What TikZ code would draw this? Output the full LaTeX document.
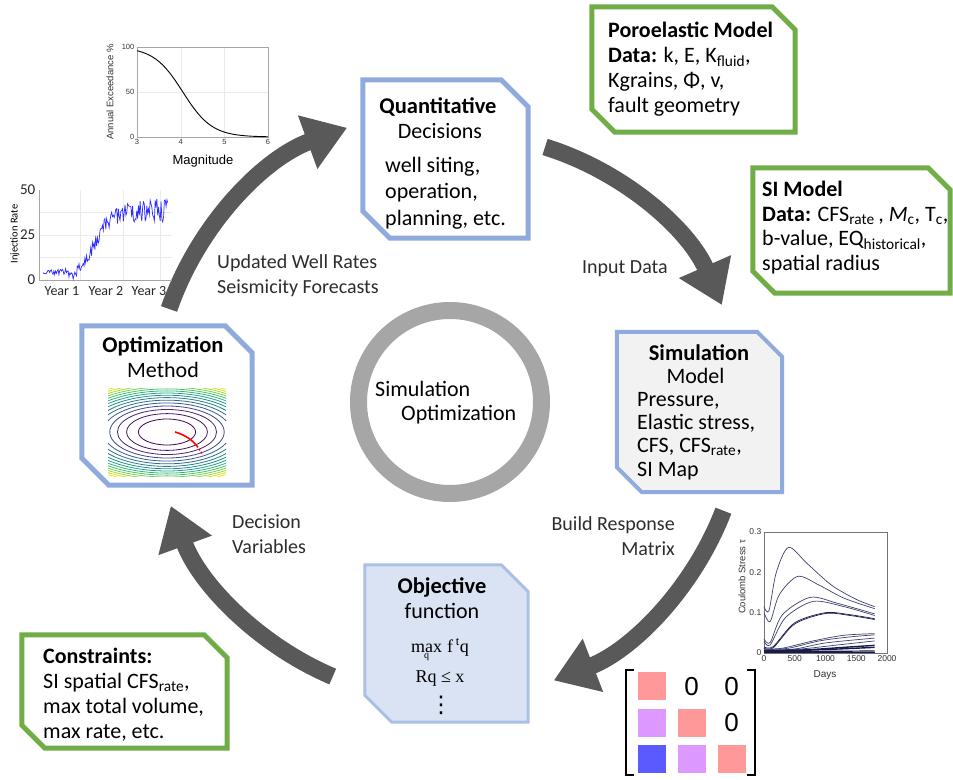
\documentclass[tikz,border=0pt]{standalone}
\usepackage{fontspec}
\setmainfont{Carlito}
\newfontfamily\plotfont{Liberation Sans}
\newfontfamily\formulafont{Liberation Serif}
\newfontfamily\dotsfont{DejaVu Sans}
\usetikzlibrary{arrows.meta,positioning,calc}
\definecolor{SioBlue}{RGB}{143,170,220}
\definecolor{SioSoftBlue}{RGB}{170,192,228}
\definecolor{SioPaleBlue}{RGB}{218,227,243}
\definecolor{SioGreen}{RGB}{112,173,71}
\definecolor{SioPanel}{RGB}{242,242,242}
\definecolor{SioArrow}{RGB}{89,89,89}
\definecolor{SioRing}{RGB}{166,166,166}
\definecolor{SioLabel}{RGB}{45,45,45}
\definecolor{SioInj}{RGB}{45,45,255}
\definecolor{SioStress}{RGB}{62,64,110}
\definecolor{SioStressDark}{RGB}{25,28,75}
\definecolor{SioDiag}{RGB}{255,153,153}
\definecolor{SioSub}{RGB}{221,153,255}
\definecolor{SioLow}{RGB}{90,90,255}
\definecolor{vir0}{HTML}{440154}
\definecolor{vir1}{HTML}{471365}
\definecolor{vir2}{HTML}{482475}
\definecolor{vir3}{HTML}{404688}
\definecolor{vir4}{HTML}{365C8D}
\definecolor{vir5}{HTML}{2F6C8E}
\definecolor{vir6}{HTML}{26828E}
\definecolor{vir7}{HTML}{21918C}
\definecolor{vir8}{HTML}{20A486}
\definecolor{vir9}{HTML}{2FB47C}
\definecolor{vir10}{HTML}{4AC16D}
\definecolor{vir11}{HTML}{73D056}
\definecolor{vir12}{HTML}{9FDA3A}
\definecolor{vir13}{HTML}{CFE11C}
\definecolor{vir14}{HTML}{FDE725}
\newcommand{\sioframe}[3][27pt]{%
  \path[#3] (#2.north west) -- ([xshift=-#1]#2.north east) -- ([yshift=-#1]#2.north east)
    -- (#2.south east) -- ([xshift=#1]#2.south west) -- ([yshift=#1]#2.south west) -- cycle;}
\tikzset{
  sio/area/.style={rectangle, inner sep=0pt},
  sio/decision/.style={draw=SioBlue, line width=5pt, fill=white},
  sio/data/.style={draw=SioGreen, line width=5pt, fill=white},
  sio/model/.style={draw=SioBlue, line width=4pt, fill=SioPanel},
  sio/goal/.style={draw=SioSoftBlue, line width=3pt, fill=SioPaleBlue},
  sio/head/.style={font=\fontsize{22.5}{26}\selectfont\bfseries, inner sep=0pt},
  sio/text/.style={font=\fontsize{22}{25}\selectfont, inner sep=0pt, align=left},
  sio/formula/.style={font=\formulafont\fontsize{18}{20}\selectfont, inner sep=0pt},
  sio/flow/.style={font=\fontsize{20}{25}\selectfont, text=SioLabel, inner sep=0pt, align=left},
  sio/hubtext/.style={font=\fontsize{22}{24}\selectfont, inner sep=0pt},
  sio/cycle/.style={draw=SioArrow, line width=17pt, -{Triangle[length=42pt,width=54pt]}},
  sio/ring/.style={circle, draw=SioRing, line width=17pt, minimum size=183pt, inner sep=0pt},
  sio/tick/.style={font=\plotfont\fontsize{7.5}{9}\selectfont, text=black!80, inner sep=1.5pt},
  sio/bigtick/.style={font=\fontsize{15}{17}\selectfont, text=black!85, inner sep=1.5pt},
  sio/axis/.style={draw=black!35, line width=0.5pt},
  sio/grid/.style={draw=black!8, line width=0.4pt},
  sio/stress/.style={draw=SioStress, line width=0.7pt, smooth},
  sio/cell/.style={minimum size=28pt, inner sep=0pt},
  sio/zero/.style={font=\plotfont\fontsize{26}{30}\selectfont, inner sep=0pt}
}

\begin{document}
\begin{tikzpicture}[x=1pt,y=-1pt]
  \path[use as bounding box, fill=white] (0,0) rectangle (953,779);

  \coordinate (loop) at (448,405);
  \coordinate (loopInput) at (460,420);
  \draw[sio/cycle] ($(loop)+(-161:295)$) arc[start angle=-161, end angle=-110, radius=295];
  \draw[sio/cycle] ($(loopInput)+(-72.7:286)$) arc[start angle=-72.7, end angle=-23.7, radius=286];
  \draw[sio/cycle] ($(loop)+(21:295)$) arc[start angle=21, end angle=69, radius=295];
  \draw[sio/cycle] ($(loop)+(113:295)$) arc[start angle=113, end angle=160, radius=295];

  \node[sio/ring] (hub) at (450,402) {};
  \node[sio/hubtext, anchor=base west] (hubSim) at (375,396) {Simulation};
  \node[sio/hubtext, anchor=base west] (hubOpt) at (401,420) {Optimization};

  \node[sio/flow, anchor=base west] (lblUpdate) at (217,293) {Updated Well Rates\\Seismicity Forecasts};
  \node[sio/flow, anchor=base west] (lblInput) at (582,273) {Input Data};
  \node[sio/flow, anchor=base west] (lblDecision) at (232,553) {Decision\\Variables};
  \node[sio/flow, anchor=base east, align=right] (lblBuild) at (675,555) {Build Response\\Matrix};

  \node[sio/area, minimum width=165pt, minimum height=158pt] (quant) at (445.5,159) {};
  \sioframe{quant}{sio/decision}
  \node[sio/head, anchor=base] (quantHead) at (438,113) {Quantitative};
  \node[sio/text, anchor=base] (quantSub) at (440,138) {Decisions};
  \node[sio/text, anchor=base west, font=\fontsize{22}{26.5}\selectfont] (quantList) at (385,225) {well siting,\\operation,\\planning, etc.};

  \node[sio/area, minimum width=203pt, minimum height=125pt] (poro) at (693.5,69.5) {};
  \sioframe[23pt]{poro}{sio/data}
  \node[sio/text, anchor=base west, font=\fontsize{22}{24.7}\selectfont] (poroText) at (608,112) {\textbf{Poroelastic Model}\\\textbf{Data:} k, E, K\textsubscript{fluid},\\Kgrains, Φ, v,\\fault geometry};

  \node[sio/area, minimum width=197pt, minimum height=125pt] (siModel) at (851.5,230.5) {};
  \sioframe[22pt]{siModel}{sio/data}
  \node[sio/text, anchor=base west, font=\fontsize{22}{24.5}\selectfont] (siText) at (762,270) {\textbf{SI Model}\\\textbf{Data:} CFS\textsubscript{rate}\,, \textit{M}\textsubscript{c}, T\textsubscript{c},\\b-value, EQ\textsubscript{historical},\\spatial radius};

  \node[sio/area, minimum width=165pt, minimum height=160pt] (simul) at (699.5,412) {};
  \sioframe[25pt]{simul}{sio/model}
  \node[sio/head, anchor=base] (simulHead) at (699,360) {Simulation};
  \node[sio/text, anchor=base] (simulSub) at (695.5,383) {Model};
  \node[sio/text, anchor=base west, font=\fontsize{22}{23.3}\selectfont] (simulList) at (637,476) {Pressure,\\Elastic stress,\\CFS, CFS\textsubscript{rate},\\SI Map};

  \node[sio/area, minimum width=170pt, minimum height=159pt] (optim) at (167,405.5) {};
  \sioframe{optim}{sio/decision}
  \node[sio/head, anchor=base] (optimHead) at (163,352) {Optimization};
  \node[sio/text, anchor=base] (optimSub) at (163,377) {Method};
  \coordinate (basin) at (167,432);
  \begin{scope}
    \clip (108,388) rectangle (226,476);
    \foreach \r/\c in {13/vir0, 18.38/vir1, 22.52/vir2, 26/vir3, 29.07/vir4, 31.84/vir5, 34.39/vir6, 36.77/vir7, 39/vir8, 41.11/vir9, 43.11/vir10, 45.03/vir11, 46.87/vir12, 48.64/vir13, 50.35/vir14}
      \draw[\c, line width=0.8pt] (basin) ellipse [x radius={2.2*\r}, y radius=\r];
  \end{scope}
  \draw[red, line width=1.6pt] (175,432) .. controls (186,435) and (193,441) .. (197,446);
  \draw[red, line width=1.6pt, dotted] (197,446) -- (203,455);

  \node[sio/area, minimum width=163pt, minimum height=157pt] (objective) at (446.5,643.5) {};
  \sioframe{objective}{sio/goal}
  \node[sio/head, anchor=base] (objHead) at (442,593) {Objective};
  \node[sio/text, anchor=base] (objSub) at (442,618) {function};
  \node[sio/formula, anchor=base] (objMax) at (440,652) {$\mathop{\hbox{max}}\limits_{\hbox{\fontsize{10}{11}\selectfont q}}$\;f\,\textsuperscript{t}q};
  \node[sio/formula, anchor=base] (objLimit) at (440,682) {Rq ≤ x};
  \node[font=\dotsfont\fontsize{23}{25}\selectfont, inner sep=0pt, anchor=base] (objDots) at (441,712) {⋮};

  \node[sio/area, minimum width=205pt, minimum height=113pt] (constr) at (124.5,691.5) {};
  \sioframe[23pt]{constr}{sio/data}
  \node[sio/text, anchor=base west] (constrText) at (43,738) {\textbf{Constraints:}\\SI spatial CFS\textsubscript{rate},\\max total volume,\\max rate, etc.};

  \draw[sio/grid] (180.7,47) -- (180.7,137) (224.3,47) -- (224.3,137) (137,92) -- (268,92);
  \draw[sio/axis] (137,47) rectangle (268,137);
  \draw[black, line width=0.9pt] plot[domain=3:6, samples=80, variable=\m] ({137+43.667*(\m-3)}, {137-90/(1+exp(3*(\m-4.05)))});
  \foreach \v/\yy in {0/137, 50/92, 100/47}
    \node[sio/tick, anchor=east] (exY\v) at (136,\yy) {\v};
  \foreach \m in {3,4,5,6}
    \node[sio/tick, anchor=north] (exX\m) at ({137+43.667*(\m-3)},138) {\m};
  \node[sio/tick, rotate=90, font=\plotfont\fontsize{9.5}{11}\selectfont] (exLabel) at (110,92) {Annual Exceedance \%};
  \node[font=\plotfont\fontsize{13}{15}\selectfont, inner sep=0pt] (magLabel) at (203,161) {Magnitude};

  \draw[sio/grid] (80,190) -- (80,280) (123,190) -- (123,280) (160,190) -- (160,280) (39,212.5) -- (172,212.5) (39,235) -- (172,235) (39,257.5) -- (172,257.5);
  \draw[sio/axis] (39,190) -- (39,280) -- (172,280);
  \pgfmathsetseed{11}
  \draw[SioInj, line width=0.7pt] plot[domain=0:1, samples=150, variable=\u] ({43+125*\u}, {280-1.8*min(48,max(0.5,4+4*\u+31/(1+exp(-18*(\u-0.42)))-4*exp(-(\u-0.24)*(\u-0.24)/0.0016)+(1.2+6*\u)*rand))});
  \foreach \v/\yy in {0/280, 25/235, 50/190}
    \node[sio/bigtick, anchor=east] (injY\v) at (37,\yy) {\v};
  \foreach \n/\xx in {1/62, 2/106, 3/149}
    \node[sio/bigtick, anchor=base, font=\fontsize{14}{16}\selectfont] (injX\n) at (\xx,295) {Year \n};
  \node[rotate=90, font=\fontsize{10.5}{12}\selectfont, inner sep=0pt] (injLabel) at (15,234) {Injection Rate};

  \draw[draw=black!55, line width=0.5pt] (764,532) rectangle (887,653);
  \foreach \v/\yy [count=\i] in {0/653, 0.1/612.7, 0.2/572.3, 0.3/532}
    \node[sio/tick, anchor=east, font=\plotfont\fontsize{8.5}{10}\selectfont] (csY\i) at (763,\yy) {\v};
  \foreach \v/\xx [count=\i] in {0/764, 500/794.75, 1000/825.5, 1500/856.25, 2000/887}
    \node[sio/tick, anchor=north, font=\plotfont\fontsize{8.5}{10}\selectfont] (csX\i) at (\xx,654) {\v};
  \node[sio/tick, rotate=90, font=\plotfont\fontsize{9.5}{11}\selectfont] (csLabel) at (742,577) {Coulomb Stress τ};
  \node[sio/tick, font=\plotfont\fontsize{10}{12}\selectfont] (daysLabel) at (825,675) {Days};
  \begin{scope}[shift={(764,653)}, x=0.0615pt, y=403.3pt]
    \draw[sio/stress] plot coordinates {(0,0.115) (80,0.105) (200,0.2) (400,0.262) (700,0.222) (1100,0.168) (1500,0.133) (1800,0.115)};
    \draw[sio/stress] plot coordinates {(0,0.10) (100,0.078) (250,0.145) (550,0.19) (900,0.168) (1300,0.136) (1800,0.11)};
    \draw[sio/stress] plot coordinates {(0,0.035) (100,0.026) (300,0.095) (750,0.138) (1200,0.123) (1800,0.097)};
    \draw[sio/stress] plot coordinates {(0,0.03) (100,0.02) (350,0.088) (800,0.128) (1300,0.115) (1800,0.093)};
    \draw[sio/stress, draw=SioStressDark] plot coordinates {(0,0.015) (150,0.016) (500,0.075) (1000,0.1) (1400,0.095) (1800,0.085)};
    \draw[sio/stress, draw=SioStressDark] plot coordinates {(0,0.012) (150,0.013) (500,0.072) (1000,0.098) (1400,0.093) (1800,0.083)};
    \draw[sio/stress] plot coordinates {(0,0.01) (300,0.012) (800,0.03) (1300,0.044) (1800,0.048)};
    \draw[sio/stress] plot coordinates {(0,0.008) (400,0.012) (900,0.03) (1400,0.04) (1800,0.045)};
    \draw[sio/stress] plot coordinates {(0,0.007) (500,0.01) (1000,0.025) (1800,0.037)};
    \draw[sio/stress] plot coordinates {(0,0.006) (600,0.01) (1200,0.02) (1800,0.03)};
    \draw[sio/stress, draw=SioStressDark, line width=1.4pt] plot coordinates {(0,0.005) (700,0.008) (1300,0.014) (1800,0.019)};
    \draw[sio/stress, draw=SioStressDark, line width=1.4pt] plot coordinates {(0,0.004) (900,0.008) (1800,0.014)};
    \draw[sio/stress, draw=SioStressDark, line width=1.2pt] plot coordinates {(0,0.003) (1800,0.005)};
    \draw[sio/stress, draw=SioStressDark, line width=1.2pt] plot coordinates {(0,0.001) (1800,0.001)};
  \end{scope}

  \node[sio/cell, fill=SioDiag] (r1c1) at (651.5,686) {};
  \node[sio/zero] (r1c2) at (691.5,687) {0};
  \node[sio/zero] (r1c3) at (731.5,687) {0};
  \node[sio/cell, fill=SioSub] (r2c1) at (651.5,723) {};
  \node[sio/cell, fill=SioDiag] (r2c2) at (691.5,723) {};
  \node[sio/zero] (r2c3) at (731.5,723) {0};
  \node[sio/cell, fill=SioLow] (r3c1) at (651.5,759) {};
  \node[sio/cell, fill=SioSub] (r3c2) at (691.5,759) {};
  \node[sio/cell, fill=SioDiag] (r3c3) at (731.5,759) {};
  \draw[line width=1.8pt] (634,670) -- (626,670) -- (626,775) -- (634,775);
  \draw[line width=1.8pt] (747,670) -- (755,670) -- (755,775) -- (747,775);
\end{tikzpicture}
\end{document}
